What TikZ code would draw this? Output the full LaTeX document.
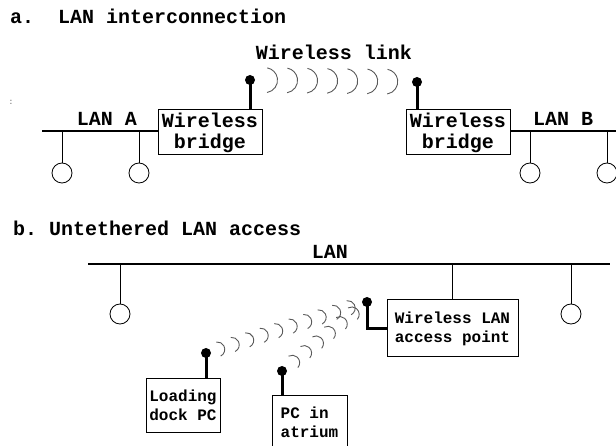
\documentclass[tikz,border=0pt]{standalone}
\usepackage{fontspec}
\setmonofont{Liberation Mono}
\usetikzlibrary{calc, positioning}

\newcommand{\bigtt}{\ttfamily\bfseries\fontsize{20}{21}\selectfont}
\newcommand{\smalltt}{\ttfamily\bfseries\fontsize{16}{19}\selectfont}

% arcs from antenna #1 towards antenna #2, radius #3, at fractions #4
\newcommand{\radiowaves}[4]{%
  \foreach \f in {#4} {
    \draw[wave] let \p1=($(#2)-(#1)$), \n1={atan2(\y1,\x1)} in
      ($(#1)!\f!(#2)$) ++(\n1-80:#3) arc[start angle=\n1-80, end angle=\n1+80, radius=#3];
  }}

\begin{document}
\begin{tikzpicture}[
    x=1pt, y=-1pt,
    box/.style={rectangle, draw, line width=1pt, inner xsep=3pt, inner ysep=2pt,
                font=\bigtt, align=center},
    device/.style={box, font=\smalltt},
    host/.style={circle, draw, line width=0.8pt, inner sep=0pt, minimum size=20pt},
    antenna/.style={circle, fill, inner sep=0pt, minimum size=10pt},
    stem/.style={line width=3pt},
    lan/.style={line width=1.3pt},
    drop/.style={line width=0.8pt},
    wave/.style={draw=black!65, line width=0.9pt},
    txt/.style={font=\bigtt, inner sep=0pt}
]
\useasboundingbox (0,0) rectangle (616,446);

%% a. LAN interconnection
\node[txt, anchor=west] (titleA) at (10,16) {a.\ \ LAN interconnection};
\node[font=\ttfamily\fontsize{8}{8}\selectfont, text=black!60] (mark) at (11,102) {:};

%% bridges
\node[box, minimum width=104pt, minimum height=45pt] (bridgeA) at (210,132.5) {Wireless\\bridge};
\node[box, minimum width=104pt, minimum height=45pt] (bridgeB) at (458,132.5) {Wireless\\bridge};

%% LAN A and LAN B
\coordinate (lanAw) at (42,131);
\coordinate (lanBe) at (616,131);
\draw[lan] (lanAw) -- (lanAw -| bridgeA.west);
\draw[lan] (lanBe -| bridgeB.east) -- (lanBe);
\node[txt] (lanAtext) at (107,119) {LAN A};
\node[txt] (lanBtext) at (563,119) {LAN B};

\node[host] (hostA1) at (62,173) {};
\node[host] (hostA2) at (139,173) {};
\node[host] (hostB1) at (530,173) {};
\node[host] (hostB2) at (607,173) {};
\foreach \h in {hostA1, hostA2} \draw[drop] (\h.north) -- (\h.north |- lanAw);
\foreach \h in {hostB1, hostB2} \draw[drop] (\h.north) -- (\h.north |- lanBe);

%% antennas and wireless link
\node[antenna] (antA) at (250,80) {};
\node[antenna] (antB) at (417,82) {};
\draw[stem] (antA.center) -- (antA.center |- bridgeA.north);
\draw[stem] (antB.center) -- (antB.center |- bridgeB.north);
\node[txt] (linktext) at (334,52) {Wireless link};
\radiowaves{antA}{antB}{12.5pt}{0.09,0.21,0.33,0.45,0.57,0.69,0.81}

%% b. Untethered LAN access
\node[txt, anchor=west] (titleB) at (13,228) {b.\ Untethered LAN access};

\coordinate (lanw) at (88,264);
\coordinate (lane) at (610,264);
\draw[lan] (lanw) -- (lane);
\node[txt] (lantext) at (330,252) {LAN};

\node[host] (hostW) at (120,314) {};
\node[host] (hostE) at (571,314) {};
\foreach \h in {hostW, hostE} \draw[drop] (\h.north) -- (\h.north |- lanw);

%% access point
\node[device, minimum width=131pt, minimum height=57pt] (ap) at (452.5,328.5) {Wireless LAN\\access point};
\draw[drop] (ap.north) -- (ap.north |- lanw);
\node[antenna] (apant) at (367,302) {};
\draw[stem] (apant.center) |- (ap.west);

%% wireless stations
\node[device, align=left, minimum width=74pt, minimum height=54pt] (dock) at (183,405) {Loading\\dock PC};
\node[antenna] (dockant) at (206,353) {};
\draw[stem] (dockant.center) -- (dockant.center |- dock.north);

\node[device, align=left, minimum width=75pt, minimum height=54pt] (atrium) at (309.5,422) {PC in\\atrium};
\node[antenna] (atrant) at (282,371) {};
\draw[stem] (atrant.center) -- (atrant.center |- atrium.north);

\radiowaves{dockant}{apant}{7.5pt}{0.07,0.16,0.25,0.34,0.43,0.52,0.61,0.70,0.79,0.88}
\radiowaves{atrant}{apant}{7.5pt}{0.12,0.26,0.40,0.54,0.68,0.82}

\end{tikzpicture}
\end{document}
